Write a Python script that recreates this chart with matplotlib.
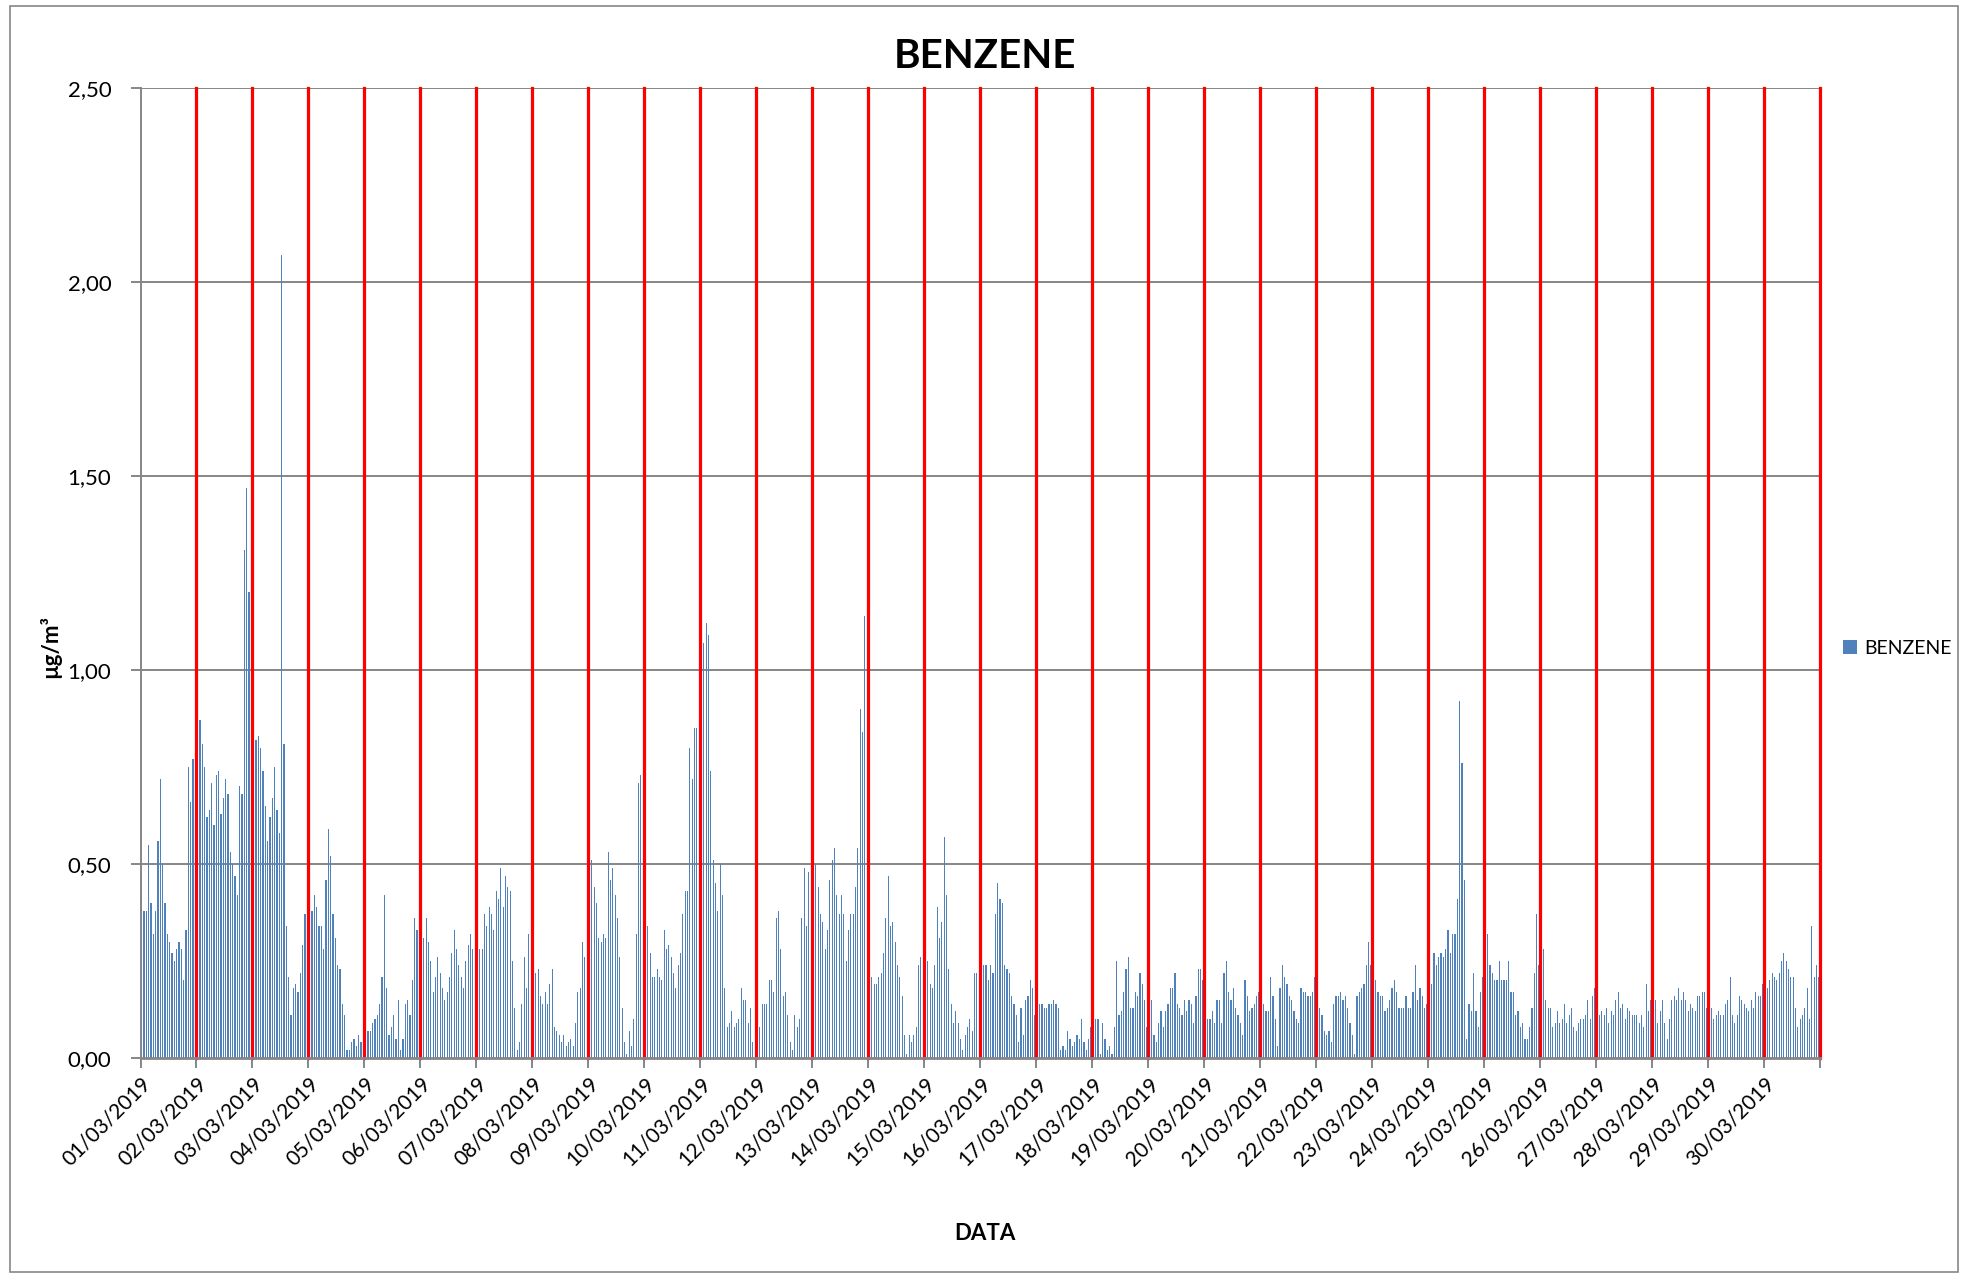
import matplotlib
matplotlib.use("Agg")
import matplotlib.pyplot as plt
from matplotlib.patches import Patch, Rectangle
from matplotlib.ticker import FixedLocator, FuncFormatter

plt.rcParams['font.family'] = ['Lato', 'DejaVu Sans']

# Hourly benzene concentrations (µg/m³), 01/03/2019 00:00 -> 30/03/2019 23:00
seg1 = [0.43, 0.38, 0.38, 0.55, 0.40, 0.32, 0.38, 0.56, 0.72, 0.50, 0.40, 0.32, 0.30, 0.27, 0.25, 0.28,
        0.30, 0.28, 0.20, 0.33, 0.75, 0.66, 0.77, 0.80,
        0.82, 0.87, 0.81, 0.75, 0.62, 0.64, 0.71, 0.60, 0.73, 0.74, 0.63, 0.67, 0.72, 0.68, 0.53, 0.50,
        0.47, 0.42, 0.70, 0.68, 1.31, 1.47, 1.20, 1.15,
        1.04, 0.82, 0.83, 0.80, 0.74, 0.65, 0.56, 0.62, 0.67, 0.75, 0.64, 0.58, 2.07, 0.81, 0.34, 0.21,
        0.11, 0.18]
seg2 = [0.19, 0.17, 0.22, 0.29, 0.37, 0.42, 0.45, 0.38, 0.42, 0.39, 0.34, 0.34, 0.28, 0.46, 0.59, 0.52,
        0.37, 0.31, 0.24, 0.23, 0.14, 0.11, 0.02, 0.02, 0.04, 0.05, 0.03, 0.06, 0.04, 0.03, 0.02, 0.07,
        0.07, 0.09, 0.10, 0.11, 0.14, 0.21, 0.42, 0.18, 0.06, 0.08, 0.11, 0.05, 0.15, 0.02, 0.05, 0.14,
        0.15, 0.11, 0.20, 0.36, 0.33, 0.28, 0.25, 0.31, 0.36, 0.30, 0.25, 0.17, 0.21, 0.26, 0.22, 0.18,
        0.15, 0.17]
seg3 = [0.21, 0.27, 0.33, 0.28, 0.24, 0.21, 0.18, 0.25, 0.29, 0.32, 0.28, 0.34, 0.31, 0.28, 0.28, 0.37,
        0.34, 0.39, 0.37, 0.33, 0.43, 0.41, 0.49, 0.39, 0.47, 0.44, 0.43, 0.25, 0.13, 0.02, 0.04, 0.14,
        0.26, 0.18, 0.32, 0.17, 0.24, 0.22, 0.23, 0.16, 0.14, 0.17, 0.14, 0.19, 0.23, 0.08, 0.07, 0.06,
        0.04, 0.06, 0.03, 0.04, 0.05, 0.03, 0.09, 0.17, 0.18, 0.30, 0.26, 0.28, 0.45, 0.51, 0.44, 0.40,
        0.31, 0.30, 0.32]
seg4 = [0.31, 0.53, 0.46, 0.49, 0.42, 0.36, 0.26, 0.13, 0.04, 0.01, 0.07, 0.03, 0.10, 0.32, 0.71, 0.73,
        0.54, 0.41, 0.34, 0.27, 0.21, 0.21, 0.23, 0.21, 0.20, 0.33, 0.28, 0.29, 0.26, 0.22, 0.18, 0.24,
        0.27, 0.37, 0.43, 0.43, 0.80, 0.72, 0.85, 0.85, 0.98, 1.08, 1.07, 1.12, 1.09, 0.74, 0.51, 0.45,
        0.38, 0.50, 0.42, 0.18, 0.08, 0.09, 0.12, 0.08, 0.09, 0.10, 0.18, 0.15, 0.15, 0.09, 0.13, 0.04,
        0.10, 0.10, 0.08]
seg5 = [0.14, 0.14, 0.14, 0.20, 0.20, 0.17, 0.36, 0.38, 0.28, 0.16, 0.17, 0.11, 0.04, 0.02, 0.11, 0.08,
        0.10, 0.36, 0.49, 0.34, 0.48, 0.66, 0.56, 0.50, 0.44, 0.37, 0.35, 0.28, 0.33, 0.46, 0.51, 0.54,
        0.42, 0.37, 0.42, 0.37, 0.25, 0.33, 0.37, 0.37, 0.44, 0.54, 0.90, 0.84, 1.14, 0.50, 0.33, 0.21,
        0.19, 0.19, 0.21, 0.22, 0.27, 0.36, 0.47, 0.34, 0.35, 0.30, 0.24, 0.21, 0.16, 0.06, 0.01, 0.06,
        0.04, 0.06, 0.08, 0.24]
seg6 = [0.26, 0.30, 0.50, 0.25, 0.19, 0.18, 0.24, 0.39, 0.31, 0.35, 0.57, 0.42, 0.23, 0.14, 0.09, 0.12,
        0.09, 0.05, 0.02, 0.06, 0.08, 0.10, 0.07, 0.22, 0.22, 0.26, 0.27, 0.24, 0.24, 0.20, 0.24, 0.22,
        0.37, 0.45, 0.41, 0.40, 0.24, 0.23, 0.22, 0.16, 0.14, 0.11, 0.04, 0.13, 0.06, 0.15, 0.16, 0.20,
        0.18, 0.11, 0.02, 0.14, 0.14, 0.13, 0.13, 0.14, 0.14, 0.15, 0.14, 0.13, 0.02, 0.03, 0.02, 0.07,
        0.05, 0.03, 0.04, 0.06]
seg7 = [0.05, 0.10, 0.04, 0.02, 0.05, 0.08, 0.13, 0.10, 0.10, 0.01, 0.09, 0.05, 0.02, 0.03, 0.01, 0.08,
        0.25, 0.11, 0.12, 0.17, 0.23, 0.26, 0.13, 0.13, 0.17, 0.16, 0.22, 0.19, 0.15, 0.08, 0.12, 0.15,
        0.06, 0.04, 0.09, 0.12, 0.08, 0.12, 0.14, 0.18, 0.18, 0.22, 0.14, 0.13, 0.11, 0.15, 0.12, 0.15,
        0.14, 0.09, 0.16, 0.23, 0.23, 0.20, 0.13, 0.10, 0.10, 0.12, 0.09, 0.15, 0.15, 0.09, 0.22, 0.25,
        0.17, 0.15, 0.18, 0.13]
seg8 = [0.11, 0.09, 0.06, 0.20, 0.16, 0.12, 0.13, 0.14, 0.16, 0.17, 0.15, 0.14, 0.12, 0.12, 0.21, 0.16,
        0.10, 0.03, 0.18, 0.24, 0.21, 0.19, 0.16, 0.15, 0.12, 0.10, 0.09, 0.18, 0.17, 0.17, 0.16, 0.16,
        0.17, 0.21, 0.15, 0.13, 0.11, 0.07, 0.06, 0.07, 0.04, 0.14, 0.16, 0.16, 0.17, 0.15, 0.16, 0.13,
        0.09, 0.06, 0.01, 0.16, 0.17, 0.18, 0.19, 0.24, 0.30, 0.24, 0.19, 0.20, 0.17, 0.16, 0.16, 0.12,
        0.13, 0.15, 0.18, 0.20]
seg9 = [0.17, 0.13, 0.13, 0.13, 0.16, 0.13, 0.13, 0.17, 0.24, 0.15, 0.18, 0.16, 0.13, 0.14, 0.12, 0.19,
        0.27, 0.24, 0.26, 0.27, 0.26, 0.28, 0.33, 0.27, 0.32, 0.32, 0.41, 0.92, 0.76, 0.46, 0.05, 0.14,
        0.12, 0.22, 0.12, 0.08, 0.17, 0.21, 0.24, 0.32, 0.24, 0.22, 0.20, 0.20, 0.25, 0.20, 0.20, 0.20,
        0.25, 0.17, 0.17, 0.11, 0.12, 0.08, 0.09, 0.05, 0.05, 0.08, 0.13, 0.22, 0.37, 0.24, 0.18, 0.28,
        0.15, 0.13, 0.13, 0.08]
seg10 = [0.09, 0.12, 0.09, 0.10, 0.14, 0.09, 0.11, 0.13, 0.08, 0.07, 0.09, 0.10, 0.10, 0.11, 0.15, 0.10,
         0.16, 0.18, 0.15, 0.11, 0.12, 0.11, 0.13, 0.09, 0.12, 0.11, 0.15, 0.17, 0.13, 0.14, 0.10, 0.13,
         0.12, 0.11, 0.11, 0.11, 0.09, 0.11, 0.08, 0.19, 0.12, 0.15, 0.15, 0.15, 0.09, 0.12, 0.15, 0.09,
         0.05, 0.10, 0.15, 0.16, 0.15, 0.18, 0.15, 0.17, 0.15, 0.12, 0.14, 0.13, 0.12, 0.16, 0.16, 0.17,
         0.17, 0.13, 0.16]
seg11 = [0.13, 0.10, 0.11, 0.12, 0.11, 0.11, 0.14, 0.15, 0.21, 0.11, 0.09, 0.11, 0.16, 0.15, 0.14, 0.13,
         0.12, 0.15, 0.13, 0.17, 0.16, 0.16, 0.19, 0.16, 0.18, 0.20, 0.22, 0.21, 0.20, 0.22, 0.25, 0.27,
         0.25, 0.23, 0.21, 0.21, 0.13, 0.08, 0.10, 0.11, 0.13, 0.18, 0.10, 0.34, 0.21, 0.24, 0.21]

day_labels = ["%02d/03/2019" % d for d in range(1, 31)]
y_ticks = [0.0, 0.5, 1.0, 1.5, 2.0, 2.5]

values = seg1 + seg2 + seg3 + seg4 + seg5 + seg6 + seg7 + seg8 + seg9 + seg10 + seg11
n = len(values)
hours_per_day = 24
n_days = len(day_labels)

W, H = 1968, 1274
fig = plt.figure(figsize=(W / 100, H / 100), dpi=100)
ax_l, ax_r, ax_t, ax_b = 140.5, 1820, 88, 1058
ax = fig.add_axes([ax_l / W, 1 - ax_b / H, (ax_r - ax_l) / W, (ax_b - ax_t) / H])

# horizontal gridlines
for yv in y_ticks[1:]:
    ax.axhline(yv, color='#868686', lw=1.4, zorder=1)

xs = [i + 0.5 for i in range(n)]
ax.bar(xs, values, width=0.5, color='#4F81BD', edgecolor='none', zorder=2, label='BENZENE')

# red day separators
for k in range(1, n_days + 1):
    ax.axvline(k * hours_per_day, color='#FF0000', lw=2.3, zorder=3, clip_on=False)

ax.set_xlim(0, n_days * hours_per_day)
ax.set_ylim(0, 2.5)

ax.yaxis.set_major_locator(FixedLocator(y_ticks))
ax.yaxis.set_major_formatter(FuncFormatter(lambda v, p: ("%.2f" % v).replace('.', ',')))

ticks_x = [k * hours_per_day for k in range(n_days + 1)]
ax.set_xticks(ticks_x)
ax.set_xticklabels(day_labels + [""], rotation=45, ha='right', va='top', rotation_mode='anchor',
                   fontsize=15)
ax.tick_params(axis='x', direction='out', length=7, width=1.4, color='#868686', pad=4)
ax.tick_params(axis='y', direction='out', length=7, width=1.4, color='#868686', pad=14, labelsize=16)

for s in ['top', 'right']:
    ax.spines[s].set_visible(False)
ax.spines['left'].set_color('#868686')
ax.spines['left'].set_linewidth(1.4)
ax.spines['bottom'].set_color('#868686')
ax.spines['bottom'].set_linewidth(2.0)
ax.spines['bottom'].set_zorder(4)

ax.set_ylabel('µg/m³', fontsize=16, fontweight='bold')
ax.yaxis.set_label_coords((50 - ax_l) / (ax_r - ax_l), (ax_b - 646) / (ax_b - ax_t))
ax.yaxis.label.set_va('center')
ax.set_xlabel('DATA', fontsize=16, fontweight='bold')
ax.xaxis.set_label_coords((985 - ax_l) / (ax_r - ax_l), -(1234 - ax_b) / (ax_b - ax_t))
ax.xaxis.label.set_va('center')

fig.text(985 / W, 1 - 56 / H, 'BENZENE', ha='center', va='center', fontsize=29, fontweight='bold')

fig.legend(handles=[Patch(facecolor='#4F81BD', edgecolor='none', label='BENZENE')],
           loc='center left', bbox_to_anchor=(1843 / W, 1 - 648 / H), frameon=False,
           fontsize=14, handlelength=0.7, handleheight=0.7, handletextpad=0.4,
           borderaxespad=0, borderpad=0)

fig.patches.append(Rectangle((10 / W, 2 / H), (W - 20) / W, (H - 8) / H, transform=fig.transFigure,
                             fill=False, edgecolor='#868686', lw=1.2))

fig.savefig('out.png', dpi=100)
